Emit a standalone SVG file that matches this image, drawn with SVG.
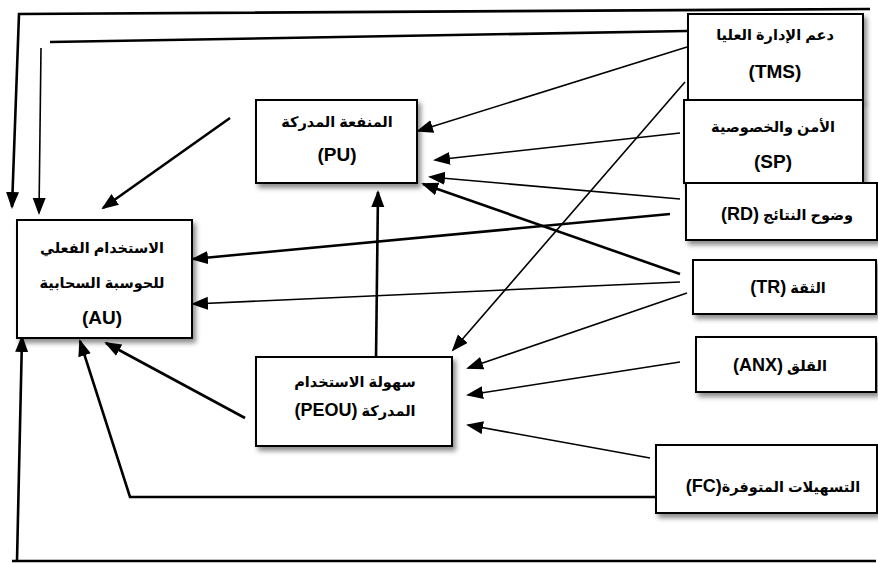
<svg xmlns="http://www.w3.org/2000/svg" width="878" height="563" viewBox="0 0 878 563">
<defs>
<marker id="ah" markerUnits="userSpaceOnUse" markerWidth="18" markerHeight="14" refX="15" refY="6.5" orient="auto">
<path d="M0,0 L17,6.5 L0,13 z" fill="#000"/>
</marker>
<filter id="sh" x="-10%" y="-10%" width="125%" height="135%">
<feDropShadow dx="3" dy="4" stdDeviation="2.5" flood-color="#000" flood-opacity="0.45"/>
</filter>
</defs>
<style>
.box{fill:#fff;stroke:#000;stroke-width:2;filter:url(#sh)}
.t{font-family:"Liberation Sans","DejaVu Sans",sans-serif;font-weight:bold;font-size:14.5px;fill:#000;text-anchor:middle;direction:rtl}
.l{font-family:"Liberation Sans","DejaVu Sans",sans-serif;font-weight:bold;font-size:19px;fill:#000;text-anchor:middle}
.s{font-size:18px}
.c{fill:none;stroke:#000;stroke-width:1.6}
.k{fill:none;stroke:#000;stroke-width:2.6}
.a{marker-end:url(#ah)}
</style>
<g id="connectors">
<polyline class="k a" points="870,9 19,14 12,207"/>
<line class="k" x1="687" y1="31" x2="50" y2="42"/>
<line class="c a" x1="41" y1="48" x2="39" y2="213"/>
<line class="k a" x1="230" y1="118" x2="103" y2="208"/>
<line class="k a" x1="670" y1="214" x2="193" y2="259"/>
<line class="c a" x1="680" y1="282" x2="193" y2="304"/>
<line class="c a" x1="687" y1="47" x2="418" y2="131"/>
<line class="c a" x1="680" y1="133" x2="435" y2="160"/>
<line class="c a" x1="680" y1="199" x2="430" y2="177"/>
<line class="k a" x1="680" y1="274" x2="423" y2="184"/>
<line class="c a" x1="685" y1="82" x2="453" y2="350"/>
<line class="c a" x1="687" y1="293" x2="468" y2="368"/>
<line class="c a" x1="680" y1="362" x2="468" y2="395"/>
<line class="c a" x1="650" y1="458" x2="468" y2="425"/>
<line class="k a" x1="376" y1="360" x2="378" y2="192"/>
<line class="k a" x1="245" y1="418" x2="106" y2="343"/>
<polyline class="k a" points="656,497 130,497 80,341"/>
<line class="k" x1="12" y1="561" x2="876" y2="561"/>
<line class="k a" x1="17" y1="561" x2="22" y2="337"/>
</g>
<g id="AU">
<rect class="box" x="17" y="220" width="175" height="118"/>
<text class="t" x="102" y="253">الاستخدام الفعلي</text>
<text class="t" x="102" y="288">للحوسبة السحابية</text>
<text class="l" x="102" y="324">(AU)</text>
</g>
<g id="PU">
<rect class="box" x="256" y="100" width="161" height="83"/>
<text class="t" x="337" y="127">المنفعة المدركة</text>
<text class="l" x="337" y="161">(PU)</text>
</g>
<g id="PEOU">
<rect class="box" x="256" y="357" width="196" height="89"/>
<text class="t" x="355" y="387">سهولة الاستخدام</text>
<text class="t" x="355" y="416">المدركة <tspan class="s">(PEOU)</tspan></text>
</g>
<g id="TMS">
<rect class="box" x="688" y="14" width="175" height="86"/>
<text class="t" x="775" y="40">دعم الإدارة العليا</text>
<text class="l" x="775" y="78">(TMS)</text>
</g>
<g id="SP">
<rect class="box" x="684" y="100" width="179" height="83"/>
<text class="t" x="773" y="132">الأمن والخصوصية</text>
<text class="l" x="773" y="168">(SP)</text>
</g>
<g id="RD">
<rect class="box" x="686" y="183" width="191" height="57"/>
<text class="t" x="787" y="220">وضوح النتائج <tspan class="s">(RD)</tspan></text>
</g>
<g id="TR">
<rect class="box" x="693" y="260" width="183" height="54"/>
<text class="t" x="788" y="293">الثقة <tspan class="s">(TR)</tspan></text>
</g>
<g id="ANX">
<rect class="box" x="696" y="337" width="180" height="55"/>
<text class="t" x="780" y="371">القلق <tspan class="s">(ANX)</tspan></text>
</g>
<g id="FC">
<rect class="box" x="656" y="445" width="221" height="68"/>
<text class="t" x="773" y="492">التسهيلات المتوفرة<tspan class="s">(FC)</tspan></text>
</g>
</svg>
